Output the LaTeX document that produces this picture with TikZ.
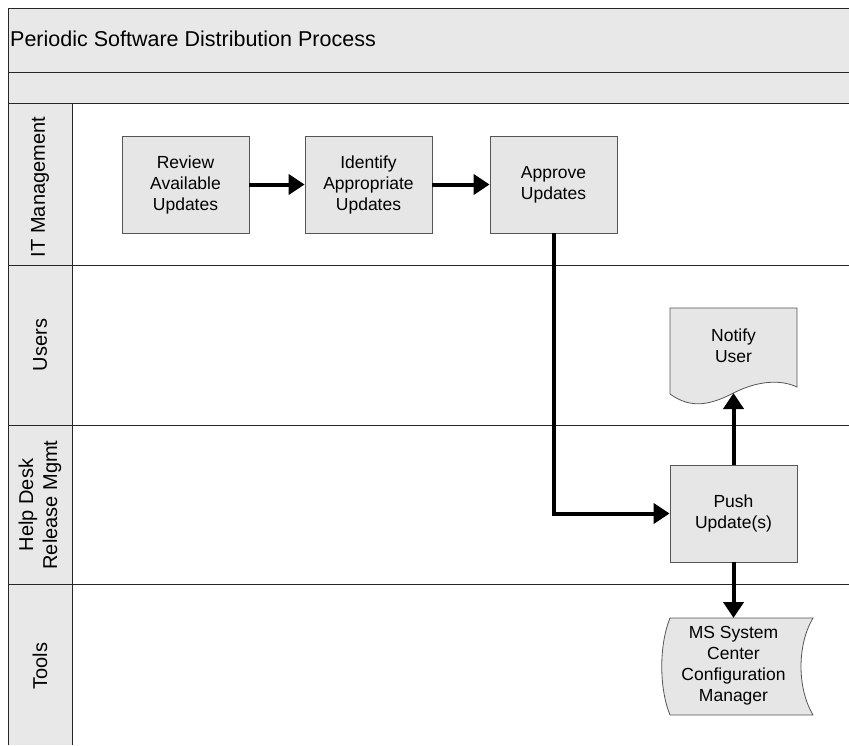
\documentclass[tikz,border=0pt]{standalone}
\usepackage{fontspec}
\setmainfont{Liberation Sans}
\usetikzlibrary{arrows.meta,positioning}
\definecolor{bandgray}{HTML}{E8E8E8}
\definecolor{boxgray}{HTML}{E6E6E6}
\definecolor{edgegray}{HTML}{555555}
\tikzset{
  activity/.style={draw=edgegray, fill=boxgray, line width=0.8pt, minimum width=127pt, minimum height=97pt, align=center, inner sep=2pt, font=\fontsize{17.5}{21}\selectfont},
  shapetext/.style={align=center, inner sep=0pt, font=\fontsize{17.5}{21}\selectfont},
  shapeedge/.style={draw=edgegray, fill=boxgray, line width=0.8pt},
  lanelabel/.style={rotate=90, align=center, font=\fontsize{20}{24}\selectfont},
  laneline/.style={line width=1pt, black!85},
  flow/.style={line width=4pt, -{Triangle[length=16pt,width=20pt]}},
}
\begin{document}
\begin{tikzpicture}[x=1pt,y=-1pt]
  \useasboundingbox (0,0) rectangle (849,745);
  %corsie
  \fill[bandgray] (8,8) rectangle (849,103);
  \fill[bandgray] (8,103) rectangle (72,745);
  \draw[laneline] (849,8) -- (8,8) -- (8,745);
  \draw[laneline] (8,72) -- (849,72);
  \draw[laneline] (8,103) -- (849,103);
  \draw[laneline] (72,103) -- (72,745);
  \foreach \y in {265,425,584}
    \draw[laneline] (8,\y) -- (849,\y);
  \node[anchor=base west, inner sep=0pt, font=\fontsize{21.5}{25}\selectfont] (title) at (10,46) {Periodic Software Distribution Process};
  \node[lanelabel] (itlane) at (40,187) {IT Management};
  \node[lanelabel] (userlane) at (40,345) {Users};
  \node[lanelabel] (helplane) at (40,505) {Help Desk\\Release Mgmt};
  \node[lanelabel] (toollane) at (40,666) {Tools};
  %attivita
  \node[activity] (review) at (185.5,184.5) {Review\\Available\\Updates};
  \node[activity] (identify) at (368.5,184.5) {Identify\\Appropriate\\Updates};
  \node[activity] (approve) at (553.5,184.5) {Approve\\Updates};
  \node[activity] (push) at (733.5,513.5) {Push\\Update(s)};
  %documento
  \draw[shapeedge] (670,308) -- (797,308) -- (797,387)
    .. controls (780,379) and (757,381) .. (733.5,393)
    .. controls (712,404) and (692,410) .. (670,394) -- cycle;
  \coordinate (notifywave) at (733.5,393);
  \node[shapetext] (notify) at (733.5,346) {Notify\\User};
  %archivio
  \draw[shapeedge] (670,618) -- (813,618)
    .. controls (797,645) and (797,688) .. (813,715) -- (670,715)
    .. controls (659,688) and (659,645) .. (670,618) -- cycle;
  \coordinate (storetop) at (733.5,618);
  \node[shapetext] (store) at (733.5,666) {MS System\\Center\\Configuration\\Manager};
  %frecce
  \draw[flow] (review) -- (identify);
  \draw[flow] (identify) -- (approve);
  \draw[flow] (approve.south) |- (push.west);
  \draw[flow] (push.north) -- (notifywave);
  \draw[flow] (push.south) -- (storetop);
\end{tikzpicture}
\end{document}
